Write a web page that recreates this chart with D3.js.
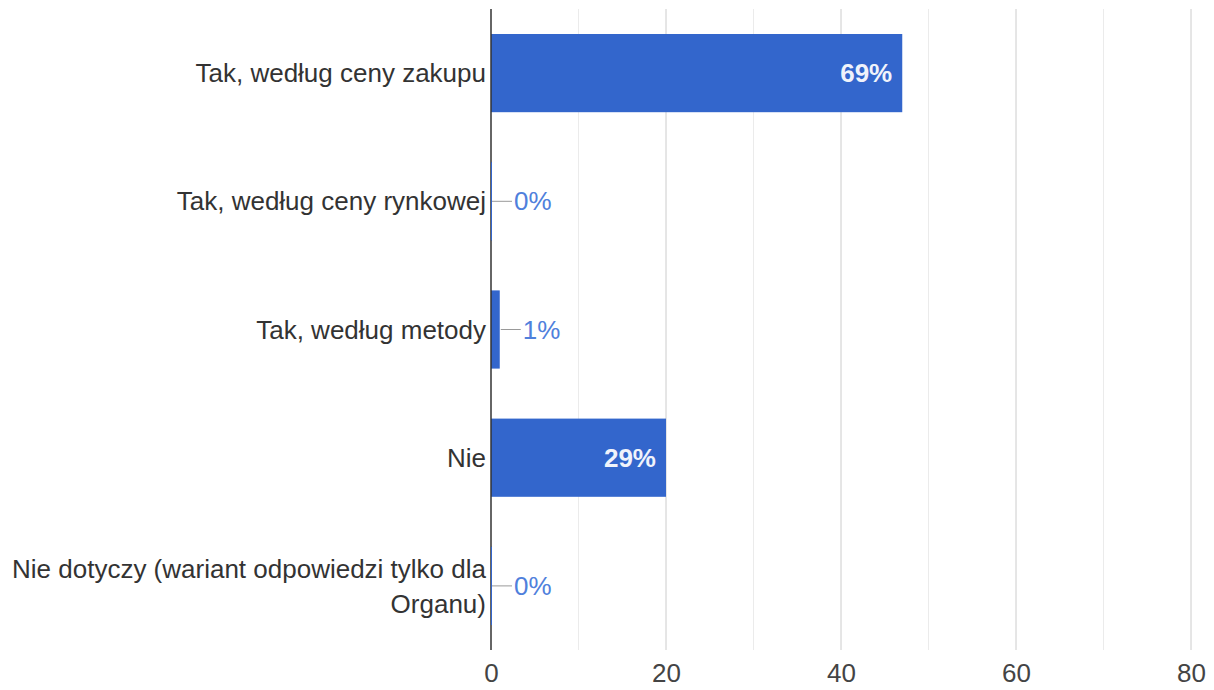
<!DOCTYPE html>
<html>
<head>
<meta charset="utf-8">
<script src="https://cdn.jsdelivr.net/npm/d3@7"></script>
<style>
  body { margin: 0; background: #fff; }
  svg { font-family: "Liberation Sans", Arial, sans-serif; }
</style>
</head>
<body>
<svg id="chart"></svg>
<script>
const categories = [
    ["Tak, według ceny zakupu"],
    ["Tak, według ceny rynkowej"],
    ["Tak, według metody"],
    ["Nie"],
    ["Nie dotyczy (wariant odpowiedzi tylko dla", "Organu)"]
];
const counts = [47, 0, 1, 20, 0];
const xTicks = [0, 20, 40, 60, 80];
const xGrid = [10, 30, 50, 70];

const margin = { top: 9, right: 23, bottom: 40, left: 491 };
const width = 1214 - margin.left - margin.right;
const height = 690 - margin.top - margin.bottom;
const fontFamily = "'Liberation Sans', Arial, sans-serif";

const total = d3.sum(counts);
const rows = categories.map((c, i) => ({ lines: c, value: counts[i], key: i }));

const svg = d3.select("#chart")
    .attr("width", 1214)
    .attr("height", 690)
    .append("g")
    .attr("transform", `translate(${margin.left},${margin.top})`);

const xScale = d3.scaleLinear().domain([0, 80]).range([0, width]);
const yScale = d3.scaleBand().domain(rows.map(d => d.key)).range([0, height]).paddingInner(0.39).paddingOuter(0.195);

// minor gridlines
svg.selectAll(".minor").data(xGrid).enter().append("line")
    .attr("x1", d => xScale(d)).attr("x2", d => xScale(d))
    .attr("y1", 0).attr("y2", height)
    .attr("stroke", "#ebebeb").attr("stroke-width", 1);

// major gridlines
svg.selectAll(".major").data(xTicks.slice(1)).enter().append("line")
    .attr("x1", d => xScale(d)).attr("x2", d => xScale(d))
    .attr("y1", 0).attr("y2", height)
    .attr("stroke", "#cccccc").attr("stroke-width", 1);

// x tick labels
const xAxis = svg.append("g")
    .attr("transform", `translate(0,${height})`)
    .call(d3.axisBottom(xScale).tickValues(xTicks).tickSize(0).tickPadding(14));
xAxis.select(".domain").remove();
xAxis.selectAll("text").attr("font-size", 26).attr("fill", "#444").attr("font-family", fontFamily);

// bars
svg.selectAll(".bar").data(rows).enter().append("rect")
    .attr("x", xScale(0))
    .attr("y", d => yScale(d.key))
    .attr("width", d => Math.max(1, xScale(d.value) - xScale(0)))
    .attr("height", yScale.bandwidth())
    .attr("fill", "#3366cc");

// baseline axis
svg.append("line")
    .attr("x1", 0).attr("x2", 0)
    .attr("y1", 0).attr("y2", height)
    .attr("stroke", "#333").attr("stroke-width", 1.5);

// zero bars show as a thin blue line over the axis
svg.selectAll(".zero").data(rows.filter(d => d.value === 0)).enter().append("line")
    .attr("x1", 0.5).attr("x2", 0.5)
    .attr("y1", d => yScale(d.key)).attr("y2", d => yScale(d.key) + yScale.bandwidth())
    .attr("stroke", "#3366cc").attr("stroke-width", 1);

// category labels
const labels = svg.selectAll(".cat").data(rows).enter().append("text")
    .attr("text-anchor", "end")
    .attr("font-size", 26)
    .attr("fill", "#333");
labels.each(function(d) {
    const cy = yScale(d.key) + yScale.bandwidth() / 2;
    const n = d.lines.length;
    d3.select(this).selectAll("tspan").data(d.lines).enter().append("tspan")
        .attr("x", -5)
        .attr("y", (l, j) => cy + (j - (n - 1) / 2) * 35)
        .attr("dy", "0.35em")
        .text(l => l);
});

// value labels
const pct = d => Math.round(d.value / total * 100) + "%";
rows.forEach(d => {
    const cy = yScale(d.key) + yScale.bandwidth() / 2;
    const end = xScale(d.value);
    if (d.value >= 10) {
        svg.append("text")
            .attr("x", end - 10).attr("y", cy).attr("dy", "0.35em")
            .attr("text-anchor", "end")
            .attr("font-size", 26).attr("font-weight", "bold")
            .attr("fill", "#f0f3fb")
            .text(pct(d));
    } else {
        svg.append("line")
            .attr("x1", end + 1).attr("x2", end + 21)
            .attr("y1", cy).attr("y2", cy)
            .attr("stroke", "#999").attr("stroke-width", 1);
        svg.append("text")
            .attr("x", end + 23).attr("y", cy).attr("dy", "0.35em")
            .attr("font-size", 26)
            .attr("fill", "#4f80dc")
            .text(pct(d));
    }
});
</script>
</body>
</html>
